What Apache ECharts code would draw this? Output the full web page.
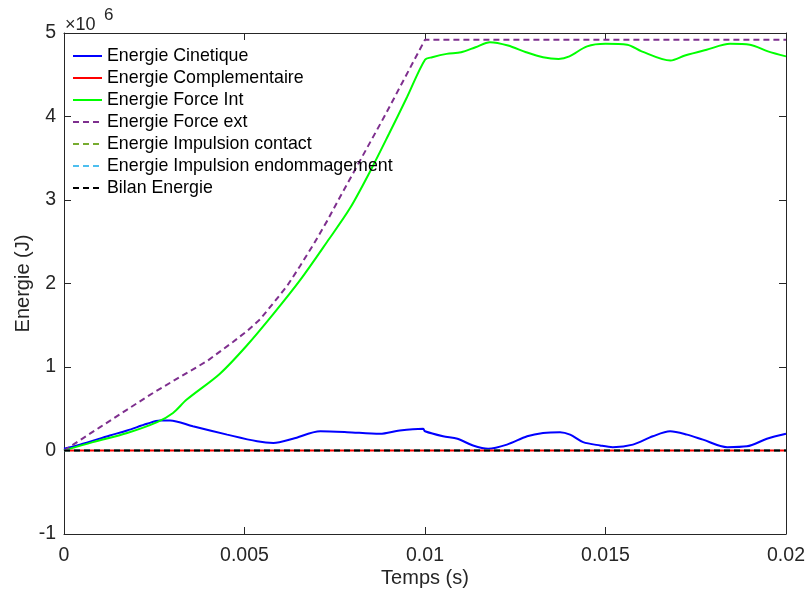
<!DOCTYPE html>
<html>
<head>
<meta charset="utf-8">
<script src="https://cdn.jsdelivr.net/npm/echarts@6/dist/echarts.min.js"></script>
<style>html,body{margin:0;padding:0;background:#fff;}#c{width:806px;height:591px;}</style>
</head>
<body>
<div id="c"></div>
<script>
// Values in units of 1e6 J
const seriesNames = ['Energie Cinetique','Energie Complementaire','Energie Force Int','Energie Force ext','Energie Impulsion contact','Energie Impulsion endommagement','Bilan Energie'];

const tCin = [0, 0.00044, 0.00127, 0.00175, 0.0023, 0.00266, 0.00294, 0.00357, 0.00452, 0.00535, 0.0058, 0.00634, 0.0071, 0.00784, 0.00875, 0.0093, 0.00995, 0.01, 0.0105, 0.0109, 0.01133, 0.01175, 0.01227, 0.01283, 0.01327, 0.01374, 0.01402, 0.01438, 0.01485, 0.0152, 0.01576, 0.01631, 0.01679, 0.01726, 0.0177, 0.01837, 0.01892, 0.01947, 0.02];
const eCin = [0.02, 0.07, 0.18, 0.24, 0.32, 0.36, 0.36, 0.29, 0.19, 0.11, 0.09, 0.14, 0.23, 0.22, 0.20, 0.24, 0.26, 0.23, 0.17, 0.14, 0.06, 0.02, 0.07, 0.17, 0.21, 0.22, 0.19, 0.10, 0.06, 0.04, 0.07, 0.17, 0.23, 0.19, 0.13, 0.04, 0.05, 0.14, 0.20];

const tInt = [0, 0.0008, 0.00175, 0.00258, 0.00302, 0.0034, 0.00432, 0.00507, 0.00579, 0.00654, 0.00729, 0.00792, 0.0085, 0.009, 0.0095, 0.01, 0.0102, 0.0106, 0.011, 0.0114, 0.0118, 0.0123, 0.0128, 0.01327, 0.0137, 0.014, 0.01449, 0.015, 0.0156, 0.016, 0.0168, 0.0172, 0.0178, 0.01845, 0.019, 0.0195, 0.02];
const eInt = [0, 0.10, 0.21, 0.34, 0.45, 0.61, 0.92, 1.26, 1.63, 2.04, 2.50, 2.90, 3.36, 3.79, 4.23, 4.68, 4.71, 4.75, 4.77, 4.83, 4.89, 4.85, 4.77, 4.71, 4.69, 4.72, 4.84, 4.87, 4.86, 4.78, 4.67, 4.73, 4.80, 4.87, 4.86, 4.78, 4.72];

const tExt = [0, 0.0005, 0.001, 0.00175, 0.00247, 0.00321, 0.00396, 0.00468, 0.00507, 0.00543, 0.00579, 0.00618, 0.00654, 0.0069, 0.00729, 0.00765, 0.0089, 0.01, 0.02];
const eExt = [0, 0.14, 0.28, 0.49, 0.69, 0.88, 1.07, 1.30, 1.43, 1.57, 1.76, 1.97, 2.21, 2.46, 2.75, 3.04, 4.02, 4.92, 4.92];

const tZero = [0, 0.02];
const eComp = [0, 0];
const eContact = [0, 0];
const eEndom = [0, 0];
const eBilan = [0, 0];

const xTicks = [0, 0.005, 0.01, 0.015, 0.02];
const yTicks = [-1, 0, 1, 2, 3, 4, 5];

function pairs(t, v) { return t.map((x, i) => [x, v[i]]); }

const FONT = "'Liberation Sans', Arial, Helvetica, sans-serif";
const AX = '#262626';

const chart = echarts.init(document.getElementById('c'), null, {renderer: 'canvas'});

function lineSeries(name, data, color, dashed, smooth) {
  return {
    name: name, type: 'line', data: data, symbol: 'none', showSymbol: false,
    smooth: smooth || false, animation: false,
    xAxisIndex: 0, yAxisIndex: 0,
    lineStyle: {color: color, width: 2, type: dashed ? [6, 4] : 'solid'},
    itemStyle: {color: color}
  };
}

const axisCommon = {
  axisLine: {show: true, onZero: false, lineStyle: {color: AX, width: 1}},
  axisTick: {show: true, inside: true, length: 7, lineStyle: {color: AX, width: 1}},
  splitLine: {show: false}
};

chart.setOption({
  backgroundColor: '#fff',
  animation: false,
  grid: {left: 64, right: 20, top: 33, bottom: 57, containLabel: false, outerBoundsMode: 'none'},
  legend: {
    orient: 'vertical', left: 72, top: 47, padding: 0,
    itemWidth: 29, itemHeight: 14, itemGap: 4,
    itemStyle: {opacity: 0},
    textStyle: {fontFamily: FONT, fontSize: 17.8, color: '#000'},
    data: seriesNames
  },
  xAxis: [
    Object.assign({type: 'value', position: 'bottom', min: xTicks[0], max: xTicks[xTicks.length - 1], interval: 0.005,
      name: 'Temps (s)', nameLocation: 'middle', nameGap: 34, nameMoveOverlap: false,
      nameTextStyle: {fontFamily: FONT, fontSize: 20, color: AX},
      axisLabel: {fontFamily: FONT, fontSize: 19.5, color: AX, margin: 12,
        formatter: v => String(+v.toFixed(3))}}, axisCommon),
    Object.assign({type: 'value', position: 'top', min: xTicks[0], max: xTicks[xTicks.length - 1], interval: 0.005,
      axisLabel: {show: false}}, axisCommon)
  ],
  yAxis: [
    Object.assign({type: 'value', position: 'left', min: yTicks[0], max: yTicks[yTicks.length - 1], interval: 1,
      name: 'Energie (J)', nameLocation: 'middle', nameGap: 31, nameMoveOverlap: false,
      nameTextStyle: {fontFamily: FONT, fontSize: 20, color: AX},
      axisLabel: {fontFamily: FONT, fontSize: 19.5, color: AX, margin: 8}}, axisCommon),
    Object.assign({type: 'value', position: 'right', min: yTicks[0], max: yTicks[yTicks.length - 1], interval: 1,
      axisLabel: {show: false}}, axisCommon)
  ],
  graphic: [
    {type: 'text', left: 65, top: 16, style: {text: '×10', font: '18px ' + FONT, fill: AX}},
    {type: 'text', left: 104, top: 7, style: {text: '6', font: '17px ' + FONT, fill: AX}}
  ],
  series: [
    lineSeries(seriesNames[0], pairs(tCin, eCin), '#0000ff', false, 0.3),
    lineSeries(seriesNames[1], pairs(tZero, eComp), '#ff0000', false),
    lineSeries(seriesNames[2], pairs(tInt, eInt), '#00ff00', false, 0.3),
    lineSeries(seriesNames[3], pairs(tExt, eExt), '#7e2f8e', true),
    lineSeries(seriesNames[4], pairs(tZero, eContact), '#77ac30', true),
    lineSeries(seriesNames[5], pairs(tZero, eEndom), '#4dbeee', true),
    lineSeries(seriesNames[6], pairs(tZero, eBilan), '#000000', true)
  ]
});
</script>
</body>
</html>
